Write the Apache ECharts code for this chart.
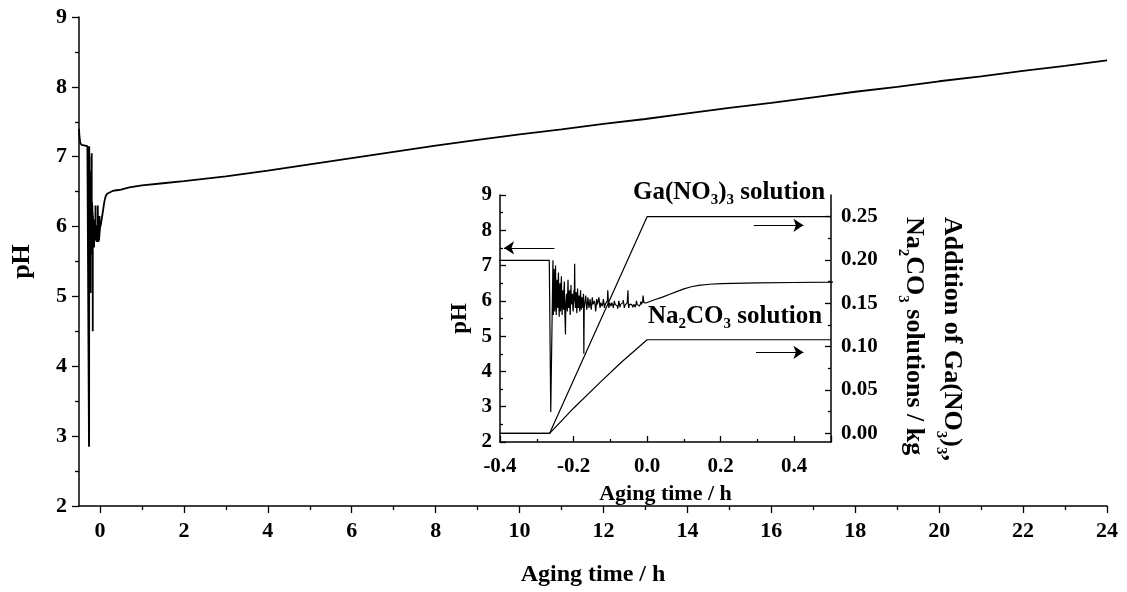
<!DOCTYPE html>
<html><head><meta charset="utf-8">
<script src="https://cdn.jsdelivr.net/npm/echarts@6/dist/echarts.min.js"></script>
<style>html,body{margin:0;padding:0;background:#fff}#c{width:1127px;height:592px}</style>
</head><body><div id="c"></div>
<script>
// ---------- data ----------
const mainXTicks = [0,2,4,6,8,10,12,14,16,18,20,22,24];
const mainXMinor = [1,3,5,7,9,11,13,15,17,19,21,23];
const insetRightTicks = [0,0.05,0.10,0.15,0.20,0.25];
const insetRightMinor = [0.025,0.075,0.125,0.175,0.225];

// pH before the additions start
const phStart = [[-0.5,7.40],[-0.49,7.3],[-0.47,7.2],[-0.44,7.17],[-0.40,7.15],[-0.30,7.15],[-0.266,7.15],
  [-0.262,2.85],[-0.259,2.9],[-0.256,7.15]];
// noisy pH during addition
const phNoise = [[-0.255,5.6],[-0.254,6.4],[-0.253,6.9],[-0.252,5.9],[-0.251,5.7],[-0.250,6.6],[-0.249,7.0],
  [-0.248,6.1],[-0.247,5.6],[-0.246,6.2],[-0.245,6.6],[-0.244,5.9],[-0.243,5.8],[-0.242,6.5],[-0.241,6.8],
  [-0.240,5.9],[-0.239,5.55],[-0.238,6.2],[-0.237,6.5],[-0.236,5.7],[-0.235,5.9],[-0.234,6.4],[-0.233,6.7],
  [-0.232,5.8],[-0.231,5.6],[-0.230,6.1],[-0.229,6.3],[-0.228,5.9],[-0.227,5.75],[-0.226,6.3],[-0.225,6.55],
  [-0.224,5.8],[-0.222,5.05],[-0.221,5.9],[-0.219,6.2],[-0.218,5.85],[-0.217,5.7],[-0.216,6.2],[-0.215,6.6],
  [-0.214,5.9],[-0.213,5.8],[-0.212,6.1],[-0.211,6.3],[-0.210,5.8],[-0.209,5.6],[-0.208,6.1],[-0.207,6.45],
  [-0.206,5.9],[-0.205,5.85],[-0.204,6.05],[-0.203,6.2],[-0.202,5.8],[-0.201,5.7],[-0.200,6.0],[-0.199,6.3],
  [-0.198,6.0],[-0.197,7.05],[-0.196,6.0],[-0.195,5.8],[-0.194,6.0],[-0.193,6.25],[-0.192,5.9],[-0.191,5.65],
  [-0.190,6.0],[-0.189,6.35],[-0.188,5.9],[-0.187,5.8],[-0.186,6.0],[-0.185,6.15],[-0.184,5.85],[-0.183,5.7],
  [-0.182,6.0],[-0.181,6.3],[-0.180,5.9],[-0.179,5.75],[-0.178,5.95],[-0.177,6.1],[-0.176,5.9],[-0.175,5.8],
  [-0.174,6.0],[-0.173,6.2],[-0.172,4.5],[-0.171,5.8],[-0.170,5.9],[-0.168,6.05],[-0.167,6.15],[-0.165,5.85],
  [-0.164,5.75],[-0.162,5.95],[-0.161,6.1],[-0.159,5.9],[-0.158,5.8],[-0.156,5.95],[-0.155,6.05],[-0.153,5.85],
  [-0.152,5.75],[-0.150,5.95],[-0.149,6.1],[-0.147,5.9],[-0.146,5.85],[-0.144,5.95],[-0.143,6.0],[-0.141,5.85],
  [-0.140,5.7],[-0.138,5.9],[-0.137,6.05],[-0.135,5.9],[-0.134,5.85],[-0.132,5.95],[-0.131,6.1],[-0.129,5.9],
  [-0.128,5.8],[-0.126,5.95],[-0.125,6.0],[-0.123,5.9],[-0.122,5.85],[-0.120,5.95],[-0.119,6.05],[-0.117,5.9],
  [-0.116,5.8],[-0.114,5.9],[-0.113,5.95],[-0.111,5.9],[-0.110,5.85],[-0.108,6.0],[-0.107,6.3],[-0.105,5.9],
  [-0.104,5.8],[-0.102,5.95],[-0.101,6.0],[-0.099,5.9],[-0.098,5.85],[-0.096,5.95],[-0.095,5.98],[-0.093,5.88],
  [-0.092,5.8],[-0.090,5.92],[-0.089,6.0],[-0.087,5.9],[-0.086,5.85],[-0.084,5.92],[-0.083,5.95],[-0.081,5.85],
  [-0.080,5.78],[-0.078,5.9],[-0.077,6.0],[-0.075,5.9],[-0.074,5.82],[-0.072,5.9],[-0.071,5.95],[-0.069,5.88],
  [-0.068,5.85],[-0.066,5.95],[-0.065,6.02],[-0.063,5.88],[-0.062,5.8],[-0.060,5.88],[-0.059,5.92],[-0.057,5.88],
  [-0.056,5.85],[-0.054,5.95],[-0.052,6.3],[-0.051,5.9],[-0.050,5.8],[-0.048,5.9],[-0.047,5.95],[-0.045,5.88],
  [-0.044,5.85],[-0.042,5.9],[-0.041,5.9],[-0.039,5.82],[-0.038,5.78],[-0.036,5.9],[-0.035,5.95],[-0.033,5.86],
  [-0.032,5.82],[-0.030,5.92],[-0.029,6.0],[-0.027,5.9],[-0.026,5.85],[-0.024,5.9],[-0.023,5.92],[-0.021,5.85],
  [-0.020,5.8],[-0.018,5.92],[-0.017,5.98],[-0.015,5.9],[-0.014,5.85],[-0.012,6.0],[-0.011,6.15],[-0.009,5.95],
  [-0.008,5.9],[-0.006,5.98],[-0.005,6.0],[-0.003,5.94],[-0.002,5.92]];
// smooth recovery after the additions
const phRecovery = [[0.0,5.98],[0.02,6.03],[0.04,6.1],[0.06,6.18],[0.08,6.26],[0.10,6.34],[0.12,6.40],
  [0.14,6.44],[0.17,6.47],[0.20,6.49],[0.30,6.51],[0.40,6.52],[0.50,6.53]];
// long aging period
const phAging = [[0.7,6.56],[1,6.59],[1.5,6.62],[2,6.65],[3,6.72],[4,6.80],[5,6.89],[6,6.98],[7,7.07],
  [8,7.16],[9,7.24],[10,7.32],[11,7.39],[12,7.47],[13,7.54],[14,7.62],[15,7.70],[16,7.77],[17,7.85],
  [18,7.93],[19,8.00],[20,8.08],[21,8.15],[22,8.23],[23,8.30],[24,8.38]];

const gaTime = [-0.4,-0.265,0.0,0.5];
const gaMass = [0,0,0.25,0.25];
const naTime = [-0.4,-0.265,-0.2,-0.13,-0.07,0.0,0.5];
const naMass = [0,0,0.029,0.058,0.082,0.108,0.108];

// ---------- chart ----------
const phAll = phStart.concat(phNoise, phRecovery, phAging);
const pairs = (xs, ys) => xs.map((x, i) => [x, ys[i]]);
const FONT = "'Liberation Serif','Times New Roman',serif";
const txt = (size) => ({color:'#000', fontFamily:FONT, fontWeight:'bold', fontSize:size});
const ls = {color:'#000', width:1.5};
const tls = {color:'#000', width:1.3};
const rich = {
  n:{fontFamily:FONT, fontWeight:'bold', fontSize:25, color:'#000', lineHeight:30},
  s:{fontFamily:FONT, fontWeight:'bold', fontSize:15, color:'#000', lineHeight:15, verticalAlign:'bottom'}
};
const richR = {
  n:{fontFamily:FONT, fontWeight:'bold', fontSize:26, color:'#000', lineHeight:38},
  s:{fontFamily:FONT, fontWeight:'bold', fontSize:15, color:'#000', lineHeight:15, verticalAlign:'bottom'}
};

const chart = echarts.init(document.getElementById('c'), null, {renderer:'canvas'});
chart.setOption({
  animation:false,
  backgroundColor:'#fff',
  grid:[{left:79,right:20,top:17,bottom:84},{left:500,right:296,top:195,bottom:150}],
  xAxis:[
    {gridIndex:0,type:'value',min:-0.5,max:24,position:'bottom',
     axisLine:{show:true,onZero:false,lineStyle:ls},
     axisTick:{show:true,length:7,customValues:mainXTicks,lineStyle:tls},
     axisLabel:{customValues:mainXTicks,margin:14,...txt(22)},
     splitLine:{show:false},
     name:'Aging time / h',nameLocation:'middle',nameGap:57,nameTextStyle:txt(24)},
    {gridIndex:0,type:'value',min:-0.5,max:24,position:'bottom',
     axisLine:{show:false,onZero:false},
     axisTick:{show:true,length:4,customValues:mainXMinor,lineStyle:tls},
     axisLabel:{show:false},splitLine:{show:false}},
    {gridIndex:1,type:'value',min:-0.4,max:0.5,interval:0.2,position:'bottom',
     axisLine:{show:true,onZero:false,lineStyle:ls},
     axisTick:{show:true,inside:true,length:6,lineStyle:tls},
     minorTick:{show:true,splitNumber:2,length:3,lineStyle:tls},
     axisLabel:{margin:14,showMaxLabel:false,formatter:v=>v.toFixed(1),...txt(21)},
     splitLine:{show:false},
     name:'Aging time / h',nameLocation:'middle',nameGap:41,nameTextStyle:txt(22)}
  ],
  yAxis:[
    {gridIndex:0,type:'value',min:2,max:9,interval:1,position:'left',
     axisLine:{show:true,onZero:false,lineStyle:ls},
     axisTick:{show:true,length:7,lineStyle:tls},
     minorTick:{show:true,splitNumber:2,length:4,lineStyle:tls},
     axisLabel:{margin:12,...txt(22)},
     splitLine:{show:false},
     name:'pH',nameLocation:'middle',nameGap:44,nameRotate:90,nameTextStyle:txt(26)},
    {gridIndex:1,type:'value',min:2,max:9,interval:1,position:'left',
     axisLine:{show:true,onZero:false,lineStyle:ls},
     axisTick:{show:true,inside:true,length:6,lineStyle:tls},
     minorTick:{show:true,splitNumber:2,length:3,lineStyle:tls},
     axisLabel:{margin:8,...txt(21)},
     splitLine:{show:false},
     name:'pH',nameLocation:'middle',nameGap:28,nameRotate:90,nameTextStyle:txt(23)},
    {gridIndex:1,type:'value',min:-0.01,max:0.275,position:'right',
     axisLine:{show:true,onZero:false,lineStyle:ls},
     axisTick:{show:true,inside:true,length:6,customValues:insetRightTicks,lineStyle:tls},
     axisLabel:{customValues:insetRightTicks,margin:10,formatter:v=>v.toFixed(2),...txt(21)},
     splitLine:{show:false}},
    {gridIndex:1,type:'value',min:-0.01,max:0.275,position:'right',
     axisLine:{show:false,onZero:false},
     axisTick:{show:true,inside:true,length:3,customValues:insetRightMinor,lineStyle:tls},
     axisLabel:{show:false},splitLine:{show:false}}
  ],
  series:[
    {type:'line',xAxisIndex:0,yAxisIndex:0,data:phAll,symbol:'none',clip:true,
     lineStyle:{color:'#000',width:1.8},silent:true},
    {type:'line',xAxisIndex:2,yAxisIndex:1,data:phAll,symbol:'none',clip:true,
     lineStyle:{color:'#000',width:1.2},silent:true,
     markLine:{silent:true,symbol:['none','arrow'],symbolSize:10,label:{show:false},
       lineStyle:{color:'#000',width:1.2,type:'solid'},
       data:[[{coord:[-0.252,7.5]},{coord:[-0.389,7.5]}]]}},
    {type:'line',xAxisIndex:2,yAxisIndex:2,data:pairs(gaTime,gaMass),symbol:'none',clip:true,
     lineStyle:{color:'#000',width:1.2},silent:true,
     markLine:{silent:true,symbol:['none','arrow'],symbolSize:10,label:{show:false},
       lineStyle:{color:'#000',width:1.2,type:'solid'},
       data:[[{coord:[0.29,0.24]},{coord:[0.425,0.24]}],[{coord:[0.296,0.0935]},{coord:[0.425,0.0935]}]]}},
    {type:'line',xAxisIndex:2,yAxisIndex:2,data:pairs(naTime,naMass),symbol:'none',clip:true,
     lineStyle:{color:'#000',width:1.2},silent:true}
  ],
  graphic:[
    {type:'text',left:633,top:180,silent:true,
     style:{text:'{n|Ga(NO}{s|3}{n|)}{s|3}{n| solution}',rich:rich}},
    {type:'text',left:648,top:304,silent:true,
     style:{text:'{n|Na}{s|2}{n|CO}{s|3}{n| solution}',rich:rich}},
    {type:'text',x:933,y:217,rotation:-Math.PI/2,silent:true,
     style:{text:'{n|Addition of Ga(NO}{s|3}{n|)}{s|3}{n|,}\n{n|Na}{s|2}{n|CO}{s|3}{n| solutions / kg}',
       rich:richR,align:'left',verticalAlign:'middle'}}
  ]
});
</script></body></html>
